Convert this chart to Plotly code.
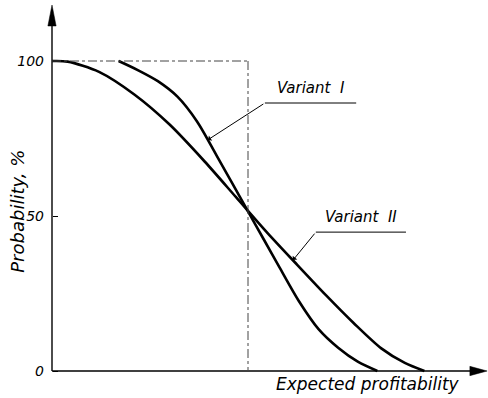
import plotly.graph_objects as go

# Probability curves of expected profitability (arbitrary profitability units)
variant1_x = [1.7, 2.2, 2.7, 3.2, 3.7, 4.2, 4.6, 5.0, 5.4, 5.8, 6.3, 6.8, 7.3, 7.8, 8.3]
variant1_y = [100, 97.0, 93.5, 88.5, 80.5, 69.5, 60.5, 51.5, 42.5, 33.5, 22.5, 13.5, 7.5, 3.0, 0]
variant2_x = [0.0, 0.4, 1.2, 2.1, 3.0, 3.9, 4.7, 5.5, 6.2, 7.0, 7.7, 8.4, 9.0, 9.5]
variant2_y = [100, 99.8, 96.5, 89.2, 79.5, 67.5, 56.0, 44.5, 35.0, 24.3, 15.4, 7.3, 2.6, 0]
y_ticks = [0, 50, 100]
y_tick_labels = ["0", "50", "100"]
reference_x = 5.0  # expected profitability level of the reference box

FONT = dict(family="DejaVu Sans", size=15, color="black", style="italic")
X_RANGE = [-1.3265, 11.1224]
Y_RANGE = [-8.71, 119.68]

fig = go.Figure()

for xs, ys in [(variant1_x, variant1_y), (variant2_x, variant2_y)]:
    fig.add_trace(go.Scatter(
        x=xs, y=ys, mode="lines",
        line=dict(color="black", width=2.6, shape="spline", smoothing=0.8),
        hoverinfo="skip", showlegend=False,
    ))

shapes = []
# axes with arrowheads
shapes.append(dict(type="line", x0=0, y0=0, x1=0, y1=112, line=dict(color="black", width=1.4)))
shapes.append(dict(type="path", path="M 0,118.06 L -0.105,111.3 L 0.105,111.3 Z",
                   fillcolor="black", line=dict(color="black", width=0.5)))
shapes.append(dict(type="line", x0=0, y0=0, x1=10.7, y1=0, line=dict(color="black", width=1.4)))
shapes.append(dict(type="path", path="M 11.1,0 L 10.66,1.5 L 10.66,-1.5 Z",
                   fillcolor="black", line=dict(color="black", width=0.5)))
# reference box (dash-dot)
shapes.append(dict(type="line", x0=0, y0=100, x1=reference_x, y1=100,
                   line=dict(color="#444", width=1, dash="dashdot")))
shapes.append(dict(type="line", x0=reference_x, y0=100, x1=reference_x, y1=0,
                   line=dict(color="#444", width=1, dash="dashdot")))
# label underlines
shapes.append(dict(type="line", x0=5.43, y0=86.45, x1=7.76, y1=86.45, line=dict(color="black", width=1)))
shapes.append(dict(type="line", x0=6.73, y0=44.8, x1=9.03, y1=44.8, line=dict(color="black", width=1)))

annotations = [
    dict(x=6.61, y=91.3, text="Variant  I", showarrow=False, font=FONT),
    dict(x=7.88, y=49.6, text="Variant  II", showarrow=False, font=FONT),
    # leader lines to the curves
    dict(x=3.98, y=74.6, ax=5.43, ay=86.45, axref="x", ayref="y", text="",
         showarrow=True, arrowhead=1, arrowsize=1, arrowwidth=1, arrowcolor="black"),
    dict(x=6.15, y=35.8, ax=6.73, ay=44.8, axref="x", ayref="y", text="",
         showarrow=True, arrowhead=1, arrowsize=1, arrowwidth=1, arrowcolor="black"),
    dict(x=8.05, y=-4.2, text="Expected profitability",
         showarrow=False, font=dict(FONT, size=17)),
    dict(x=-0.9, y=51.6, text="Probability, %", textangle=-90,
         showarrow=False, font=dict(FONT, size=18)),
]

fig.update_layout(
    width=488, height=398,
    margin=dict(l=0, r=0, t=0, b=0),
    paper_bgcolor="white", plot_bgcolor="white",
    shapes=shapes, annotations=annotations,
    xaxis=dict(range=X_RANGE, visible=False, domain=[0, 1]),
    yaxis=dict(
        range=Y_RANGE, anchor="free", position=52 / 488,
        showline=False, showgrid=False, zeroline=False,
        tickvals=y_ticks, ticktext=y_tick_labels,
        ticks="inside", ticklen=5, tickcolor="black", tickwidth=1,
        ticklabelstandoff=8,
        tickfont=dict(family="DejaVu Sans", size=14, color="black", style="italic"),
    ),
)

fig.write_html("out.html")
